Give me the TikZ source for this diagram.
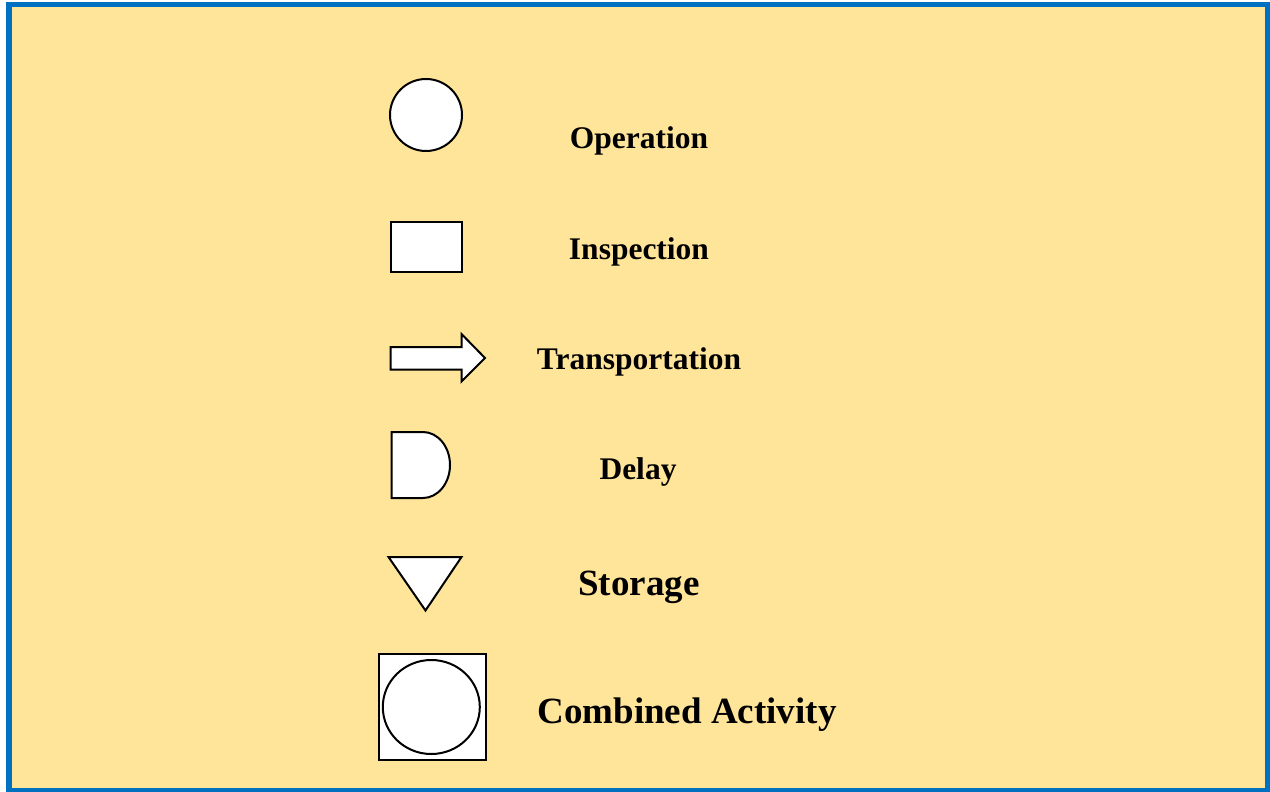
\documentclass[tikz,border=0pt]{standalone}
\usepackage{fontspec}
\setmainfont{Liberation Serif}
\definecolor{bgyellow}{RGB}{255,229,153}
\definecolor{frameblue}{RGB}{0,112,192}
\begin{document}
\begin{tikzpicture}[x=1pt,y=-1pt,
  sym/.style={draw=black,fill=white,line width=2pt,line join=miter},
  lbl/.style={font=\bfseries\fontsize{31.5}{36}\selectfont,text=black,inner sep=0pt},
  biglbl/.style={font=\bfseries\fontsize{37}{42}\selectfont,text=black,inner sep=0pt}]
\useasboundingbox (0,0) rectangle (1270,792);
\fill[white] (0,0) rectangle (1270,792);
\draw[frameblue,fill=bgyellow,line width=5.5pt] (9,4.7) rectangle (1268,791);
% Operation
\draw[sym] (426,115) circle[radius=36];
\node[lbl] (op) at (639,140.5) {Operation};
% Inspection
\draw[sym] (390.5,222) rectangle (462,272);
\node[lbl] (insp) at (639,251.5) {Inspection};
% Transportation
\draw[sym] (390.5,347) -- (461.5,347) -- (461.5,334) -- (485,358) -- (461.5,381.5) -- (461.5,369.5) -- (390.5,369.5) -- cycle;
\node[lbl] (tr) at (639,361.5) {Transportation};
% Delay
\draw[sym] (391.5,432) -- (423,432) arc[start angle=90,end angle=-90,x radius=27,y radius=-33] -- (391.5,498) -- cycle;
\node[lbl] (del) at (638,471.5) {Delay};
% Storage
\draw[sym] (388.5,557) -- (461.5,557) -- (425.5,610.5) -- cycle;
\node[biglbl] (st) at (639,587) {Storage};
% Combined Activity
\draw[sym] (378.5,654) rectangle (485.5,760);
\draw[sym] (431.3,707) ellipse[x radius=48.5,y radius=47];
\node[biglbl] (ca) at (687,715) {Combined Activity};
\end{tikzpicture}
\end{document}
